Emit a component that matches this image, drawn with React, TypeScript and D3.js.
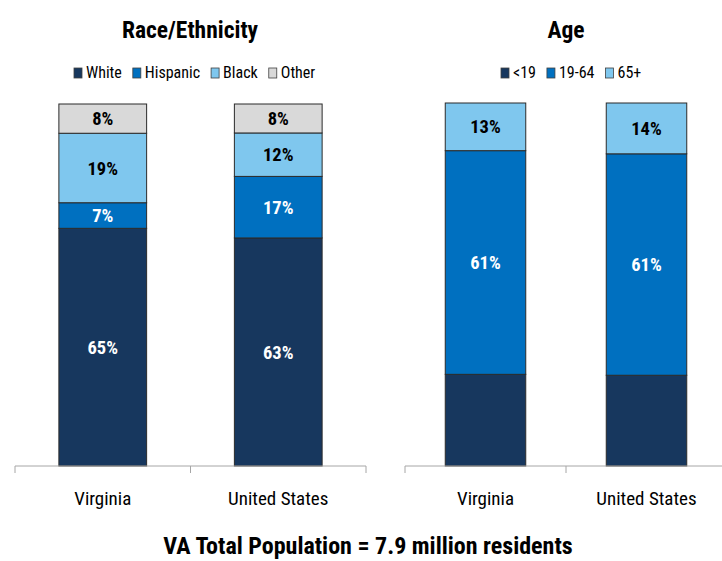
import React, { useEffect, useRef } from 'react'
import * as d3 from 'd3'

const places = ['Virginia', 'United States']

const raceKeys = ['White', 'Hispanic', 'Black', 'Other']
const raceWhite = [65, 63]
const raceHispanic = [7, 17]
const raceBlack = [19, 12]
const raceOther = [8, 8]
const raceColors = ['#17375E', '#0070C0', '#7FC7EE', '#D9D9D9']
const raceLabelled = [true, true, true, true]

const ageKeys = ['<19', '19-64', '65+']
const ageUnder19 = [25, 25]
const age19to64 = [61, 61]
const age65plus = [13, 14]
const ageColors = ['#17375E', '#0070C0', '#7FC7EE']
const ageLabelled = [false, true, true]

const darkFills = ['#17375E', '#0070C0']
const FONT = '"Liberation Sans Narrow", "Arial Narrow", "Roboto Condensed", "Liberation Sans", sans-serif'

type Panel = {
    title: string
    titleX: number
    keys: string[]
    series: number[][]
    colors: string[]
    labelled: boolean[]
    x0: number
    x1: number
    top: number
    legendX: number
}

const panels: Panel[] = [
    {
        title: 'Race/Ethnicity', titleX: 190, keys: raceKeys,
        series: [raceWhite, raceHispanic, raceBlack, raceOther],
        colors: raceColors, labelled: raceLabelled, x0: 15, x1: 366, top: 104, legendX: 74,
    },
    {
        title: 'Age', titleX: 566, keys: ageKeys,
        series: [ageUnder19, age19to64, age65plus],
        colors: ageColors, labelled: ageLabelled, x0: 405, x1: 727, top: 103, legendX: 501,
    },
]

const W = 722
const H = 561
const BASE = 466

export default function App() {
    const svgRef = useRef<SVGSVGElement>(null)

    useEffect(() => {
        if (!svgRef.current) return
        const svg = d3.select(svgRef.current)
        svg.selectAll('*').remove()
        svg.style('font-family', FONT)

        panels.forEach(p => {
            const rows = places.map((place, i) => {
                const r: Record<string, any> = { place }
                p.keys.forEach((k, j) => { r[k] = p.series[j][i] })
                return r
            })
            // 100% stacked, like the source spreadsheet chart
            const stacked = d3.stack<Record<string, any>>()
                .keys(p.keys)
                .offset(d3.stackOffsetExpand)(rows)

            const x = d3.scaleBand<string>().domain(places).range([p.x0, p.x1]).paddingInner(0.5).paddingOuter(0.25)
            const y = d3.scaleLinear().domain([0, 1]).range([BASE, p.top])

            const g = svg.append('g')

            // title
            g.append('text')
                .attr('x', p.titleX).attr('y', 38)
                .attr('text-anchor', 'middle')
                .style('font-size', '23.5px').style('font-weight', 'bold')
                .text(p.title)

            // legend
            let lx = p.legendX
            p.keys.forEach((k, j) => {
                g.append('rect')
                    .attr('x', lx).attr('y', 68).attr('width', 8).attr('height', 10)
                    .attr('fill', p.colors[j]).attr('stroke', '#404040').attr('stroke-width', 0.8)
                const t = g.append('text')
                    .attr('x', lx + 12).attr('y', 78)
                    .style('font-size', '16px')
                    .text(k)
                const w = (t.node() as SVGTextElement).getComputedTextLength()
                lx += 12 + w + 11
            })

            // bars
            stacked.forEach((layer, j) => {
                g.selectAll(null)
                    .data(layer)
                    .enter().append('rect')
                    .attr('x', d => x(d.data.place)!)
                    .attr('width', x.bandwidth())
                    .attr('y', d => y(d[1]))
                    .attr('height', d => y(d[0]) - y(d[1]))
                    .attr('fill', p.colors[j])
                    .attr('stroke', '#2b2b2b')
                    .attr('stroke-width', 1)

                if (!p.labelled[j]) return
                g.selectAll(null)
                    .data(layer)
                    .enter().append('text')
                    .attr('x', d => x(d.data.place)! + x.bandwidth() / 2)
                    .attr('y', d => (y(d[0]) + y(d[1])) / 2)
                    .attr('dy', '0.36em')
                    .attr('text-anchor', 'middle')
                    .style('font-size', '18.5px').style('font-weight', 'bold')
                    .attr('fill', darkFills.includes(p.colors[j]) ? '#ffffff' : '#000000')
                    .text((d, i) => `${p.series[j][i]}%`)
            })

            // axis
            const axis = d3.axisBottom(x).tickSize(0).tickPadding(26)
            const ax = g.append('g').attr('transform', `translate(0,${BASE})`).call(axis)
            ax.select('.domain').attr('stroke', '#a6a6a6').attr('d', `M${p.x0},0H${p.x1}`)
            ax.selectAll('.tick text')
                .style('font-family', FONT).style('font-size', '19px').attr('fill', '#000')
            const step = x.step()
            d3.range(places.length + 1).forEach(i => {
                const tx = p.x0 + i * step
                ax.append('line').attr('x1', tx).attr('x2', tx).attr('y1', 0).attr('y2', 7)
                    .attr('stroke', '#a6a6a6')
            })
        })

        svg.append('text')
            .attr('x', 368).attr('y', 554)
            .attr('text-anchor', 'middle')
            .style('font-size', '24px').style('font-weight', 'bold')
            .text('VA Total Population = 7.9 million residents')
    }, [])

    return (
        <svg ref={svgRef} width={W} height={H}
            style={{ position: 'absolute', left: 0, top: 0, background: '#fff' }} />
    )
}
